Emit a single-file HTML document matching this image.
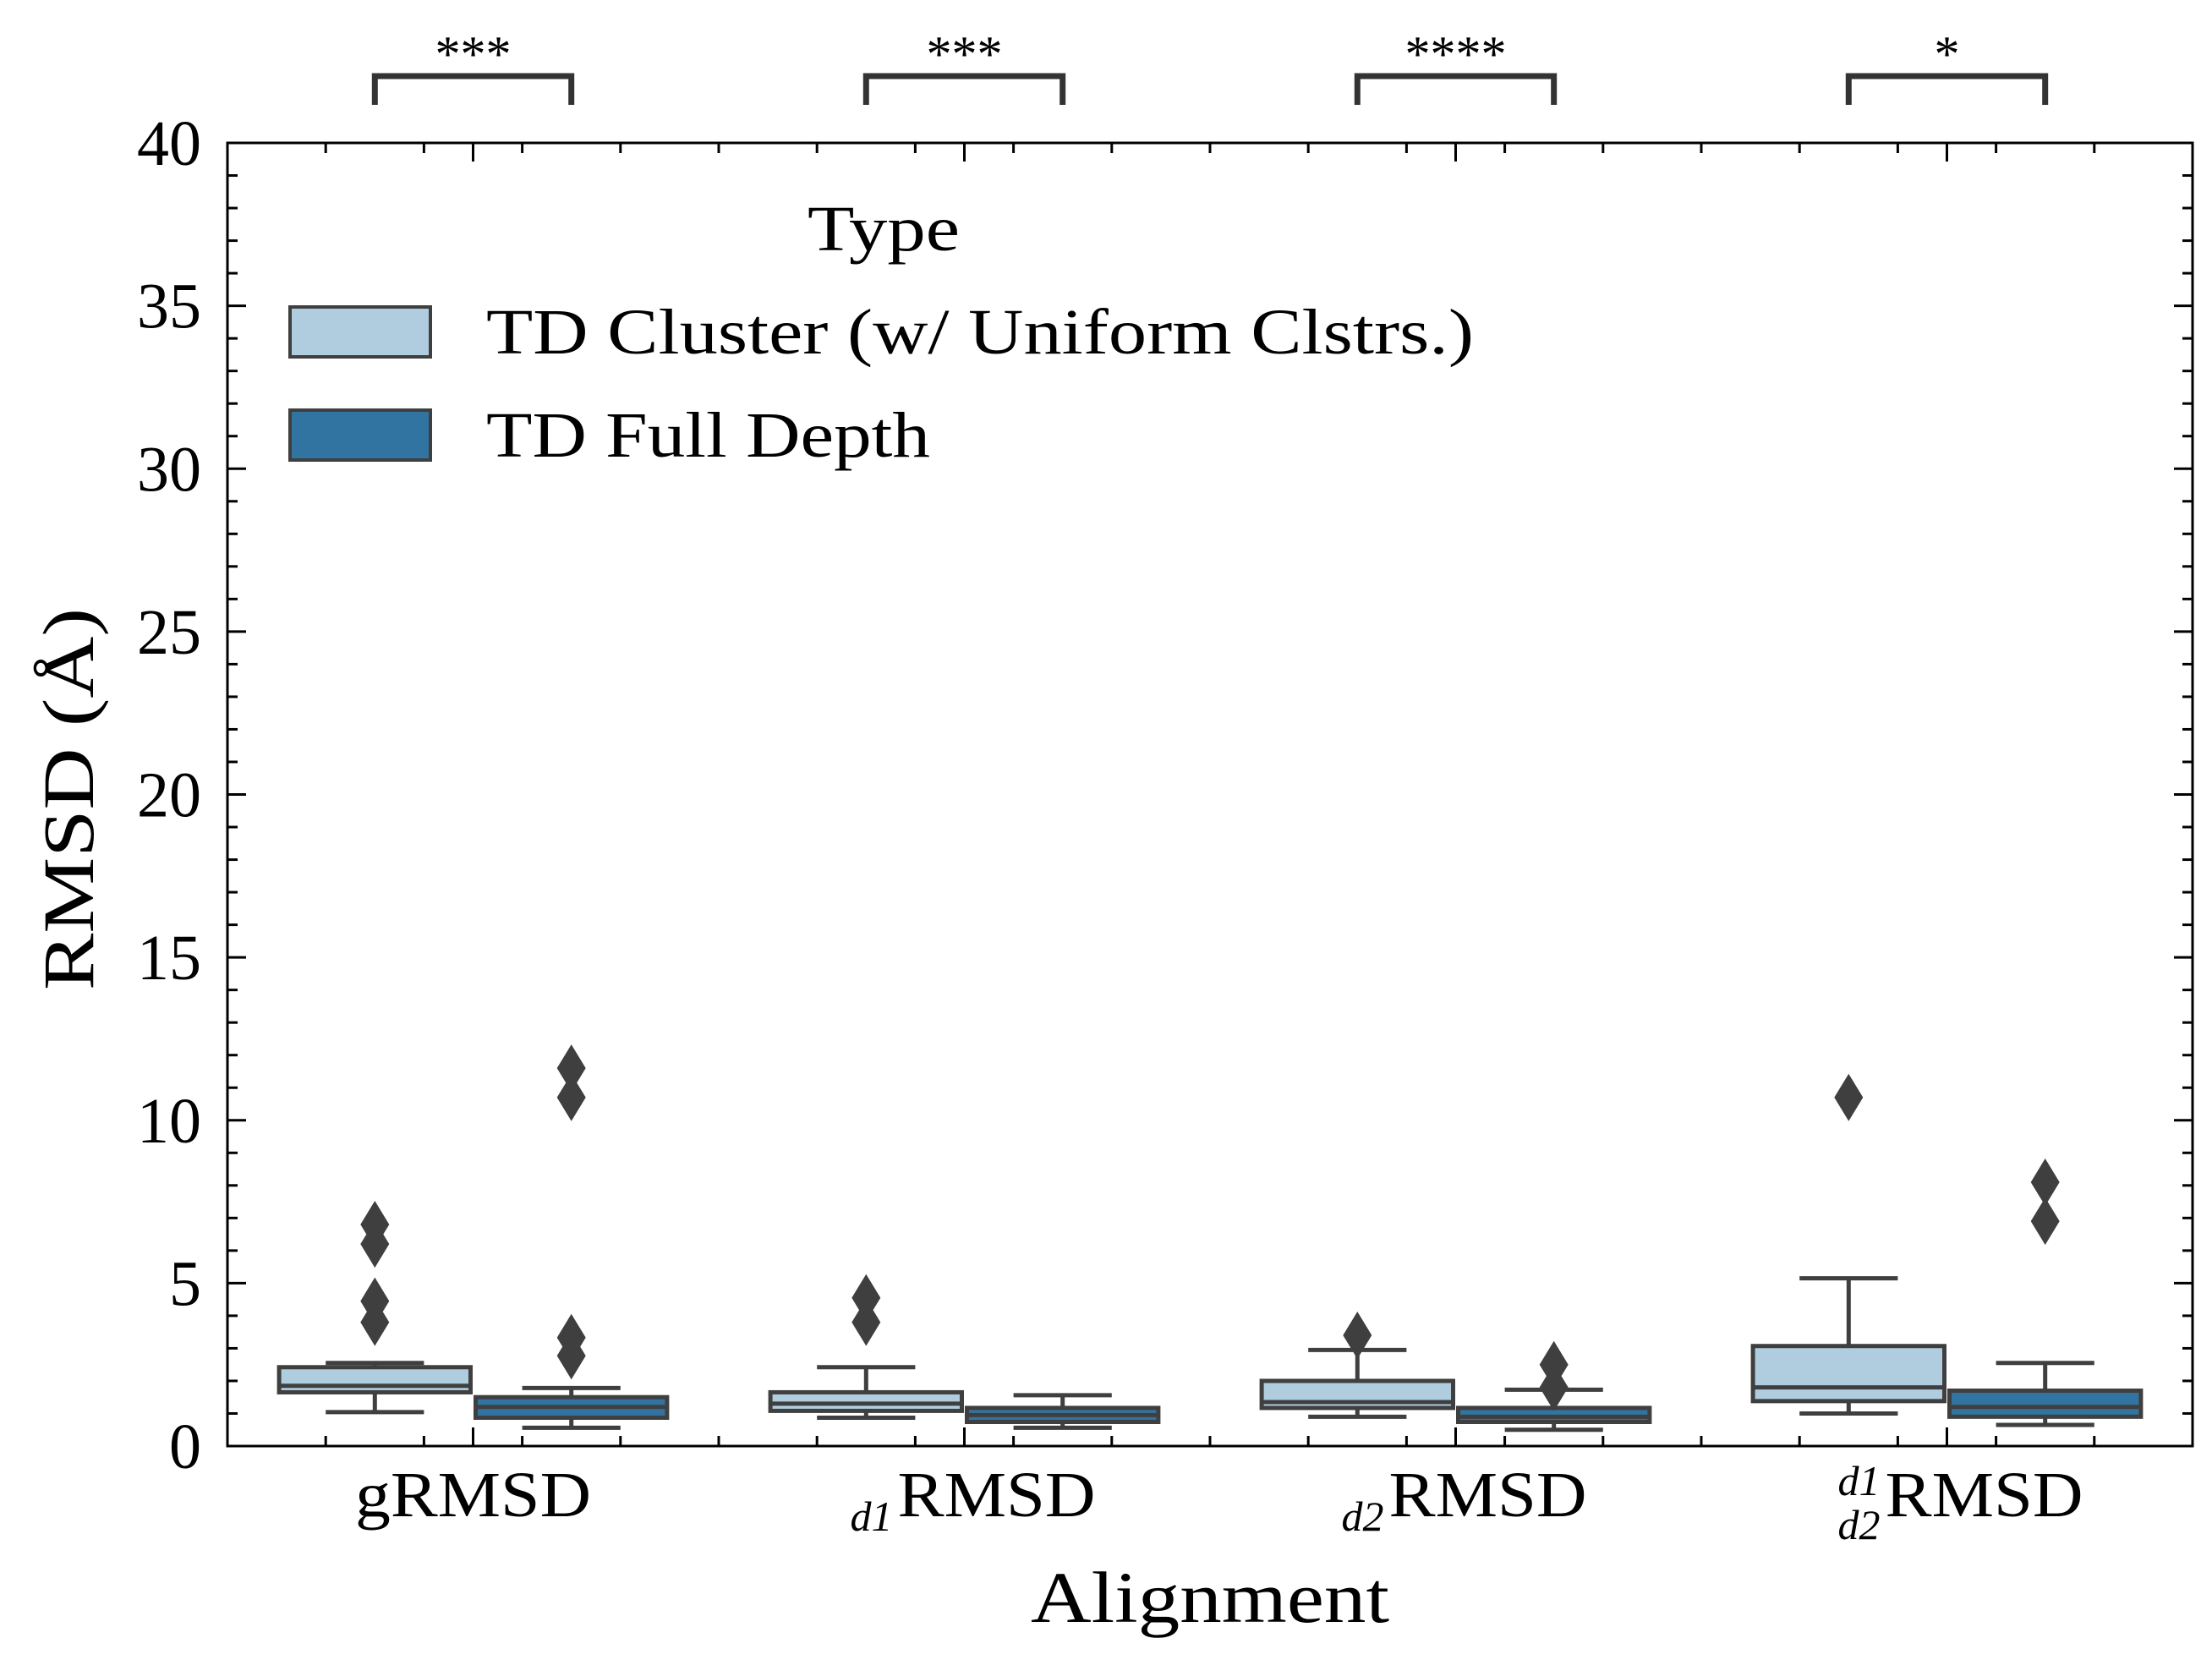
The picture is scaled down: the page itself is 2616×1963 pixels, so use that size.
<!DOCTYPE html>
<html><head><meta charset="utf-8"><style>
html,body{margin:0;padding:0;background:#fff;}
svg{display:block;font-family:"Liberation Serif","DejaVu Serif",serif;}
</style></head><body>
<svg id="chart" width="2616" height="1963" viewBox="0 0 2616 1963" xmlns="http://www.w3.org/2000/svg">
<g id="plot"></g>
</svg>
<script>
const categories = ["gRMSD","d1RMSD","d2RMSD","d1d2RMSD"];
const seriesNames = ["TD Cluster (w/ Uniform Clstrs.)","TD Full Depth"];
// [whiskerLow, Q1, median, Q3, whiskerHigh]
const clusterStats = [[1.04,1.65,1.85,2.42,2.55],[0.87,1.08,1.3,1.65,2.42],[0.9,1.17,1.35,2.0,2.95],[1.0,1.38,1.8,3.07,5.15]];
const fullStats = [[0.56,0.87,1.2,1.5,1.78],[0.56,0.74,0.95,1.17,1.56],[0.5,0.74,0.9,1.17,1.73],[0.65,0.9,1.2,1.7,2.55]];
const clusterOutliers = [[6.8,6.2,4.45,3.8],[4.55,3.8],[3.4],[10.7]];
const fullOutliers = [[11.6,10.7,3.33,2.77],[],[2.5,1.8],[8.1,6.9]];
const significance = ["***","***","****","*"];
const yTicks = [0,5,10,15,20,25,30,35,40];

const NS="http://www.w3.org/2000/svg";
const L=269,R=2593,T=169,B=1710;
const xScale=v=>L+(v+0.5)/4*(R-L);
const yScale=v=>B-v/40*(B-T);
const g=document.getElementById('plot');
function el(tag,attrs,parent){const e=document.createElementNS(NS,tag);for(const k in attrs)e.setAttribute(k,attrs[k]);(parent||g).appendChild(e);return e;}
const colors=["#b0cde0","#3274a1"];
const LC="#3f3f3f",LW=5;

const groupW=0.8,boxW=0.4;
[clusterStats,fullStats].forEach((stats,s)=>{
  stats.forEach((st,i)=>{
    const cx=xScale(i-groupW/4+s*boxW);
    const half=(xScale(boxW)-xScale(0))/2;
    const capHalf=half*0.5;
    const grp=el('g',{});
    
    
    el('line',{x1:cx,x2:cx,y1:yScale(st[0]),y2:yScale(st[1]),stroke:LC,'stroke-width':LW},grp);
    el('line',{x1:cx,x2:cx,y1:yScale(st[3]),y2:yScale(st[4]),stroke:LC,'stroke-width':LW},grp);
    el('line',{x1:cx-capHalf,x2:cx+capHalf,y1:yScale(st[0]),y2:yScale(st[0]),stroke:LC,'stroke-width':LW},grp);
    el('line',{x1:cx-capHalf,x2:cx+capHalf,y1:yScale(st[4]),y2:yScale(st[4]),stroke:LC,'stroke-width':LW},grp);
    el('rect',{x:cx-half+3,y:yScale(st[3]),width:2*half-6,height:yScale(st[1])-yScale(st[3]),fill:colors[s],stroke:LC,'stroke-width':LW},grp);
    el('line',{x1:cx-half+3,x2:cx+half-3,y1:yScale(st[2]),y2:yScale(st[2]),stroke:LC,'stroke-width':LW},grp);
  });
});
[clusterOutliers,fullOutliers].forEach((outs,s)=>{
  outs.forEach((arr,i)=>{
    const cx=xScale(i-groupW/4+s*boxW);
    arr.forEach(v=>{
      const y=yScale(v);
      const p=el('path',{d:`M${cx},${y-28} L${cx+17},${y} L${cx},${y+28} L${cx-17},${y} Z`,fill:LC});
      
      
    });
  });
});
const frame=el('rect',{x:L,y:T,width:R-L,height:B-T,fill:'none',stroke:'#000','stroke-width':3});


for(let v=0;v<=40;v++){
  const y=yScale(v),len=(v%5===0)?22:12;
  el('line',{x1:L,x2:L+len,y1:y,y2:y,stroke:'#000','stroke-width':3});
  el('line',{x1:R,x2:R-len,y1:y,y2:y,stroke:'#000','stroke-width':3});
}
yTicks.forEach(v=>{
  const t=el('text',{x:L-31,y:yScale(v)+26,'text-anchor':'end','font-size':76});
  if(String(v).length===2){t.setAttribute('textLength',76);t.setAttribute('lengthAdjust','spacingAndGlyphs');}
  t.textContent=v;
  
  
});
for(let k=0;k<=20;k++){
  const v=-0.5+k*0.2; const x=xScale(v);
  if(x<=L+2||x>=R-2)continue;
  el('line',{x1:x,x2:x,y1:B,y2:B-12,stroke:'#000','stroke-width':3});
  el('line',{x1:x,x2:x,y1:T,y2:T+12,stroke:'#000','stroke-width':3});
}
categories.forEach((c,i)=>{
  const x=xScale(i);
  el('line',{x1:x,x2:x,y1:B,y2:B-22,stroke:'#000','stroke-width':3});
  el('line',{x1:x,x2:x,y1:T,y2:T+22,stroke:'#000','stroke-width':3});
});
function txt(x,y,s,size,len,name,anchor,style){
  const t=el('text',{x:x,y:y,'text-anchor':anchor||'middle','font-size':size});
  if(style)t.setAttribute('font-style',style);
  if(len){t.setAttribute('textLength',len);t.setAttribute('lengthAdjust','spacingAndGlyphs');}
  t.textContent=s;
  
  
  return t;
}
txt(xScale(0),1793,'gRMSD',76,279,'x-tick-label');
txt(xScale(1)+38,1793,'RMSD',76,234,'x-tick-label');
txt(xScale(1)-110,1810,'d1',50,null,'x-tick-label-sub','middle','italic');
txt(xScale(2)+38,1793,'RMSD',76,234,'x-tick-label');
txt(xScale(2)-110,1810,'d2',50,null,'x-tick-label-sub','middle','italic');
txt(xScale(3)+44,1793,'RMSD',76,234,'x-tick-label');
txt(xScale(3)-104,1768,'d1',50,null,'x-tick-label-super','middle','italic');
txt(xScale(3)-104,1820,'d2',50,null,'x-tick-label-sub','middle','italic');
txt((L+R)/2,1918,'Alignment',86,424,'x-axis-title');
const yt=el('text',{x:0,y:0,'text-anchor':'middle','font-size':86,textLength:452,lengthAdjust:'spacingAndGlyphs',transform:'translate(110,945) rotate(-90)'});yt.textContent='RMSD (Å)';


significance.forEach((s,i)=>{
  const x1=xScale(i-0.2),x2=xScale(i+0.2);
  const p=el('path',{d:`M${x1},124 L${x1},90 L${x2},90 L${x2},124`,fill:'none',stroke:'#333','stroke-width':7});
  
  
  txt(xScale(i),84,s,60,null,'significance-label');
});
txt(1045,296,'Type',76,180,'legend-title');
seriesNames.forEach((n,i)=>{
  const y=363+i*122;
  const lg=el('g',{});
  
  
  el('rect',{x:343,y:y,width:166,height:59,fill:colors[i],stroke:LC,'stroke-width':4},lg);
  const t=el('text',{x:575,y:y+55,'font-size':76,textLength:i?525:1168,lengthAdjust:'spacingAndGlyphs'},lg);t.textContent=n;
});
</script>
</body></html>
